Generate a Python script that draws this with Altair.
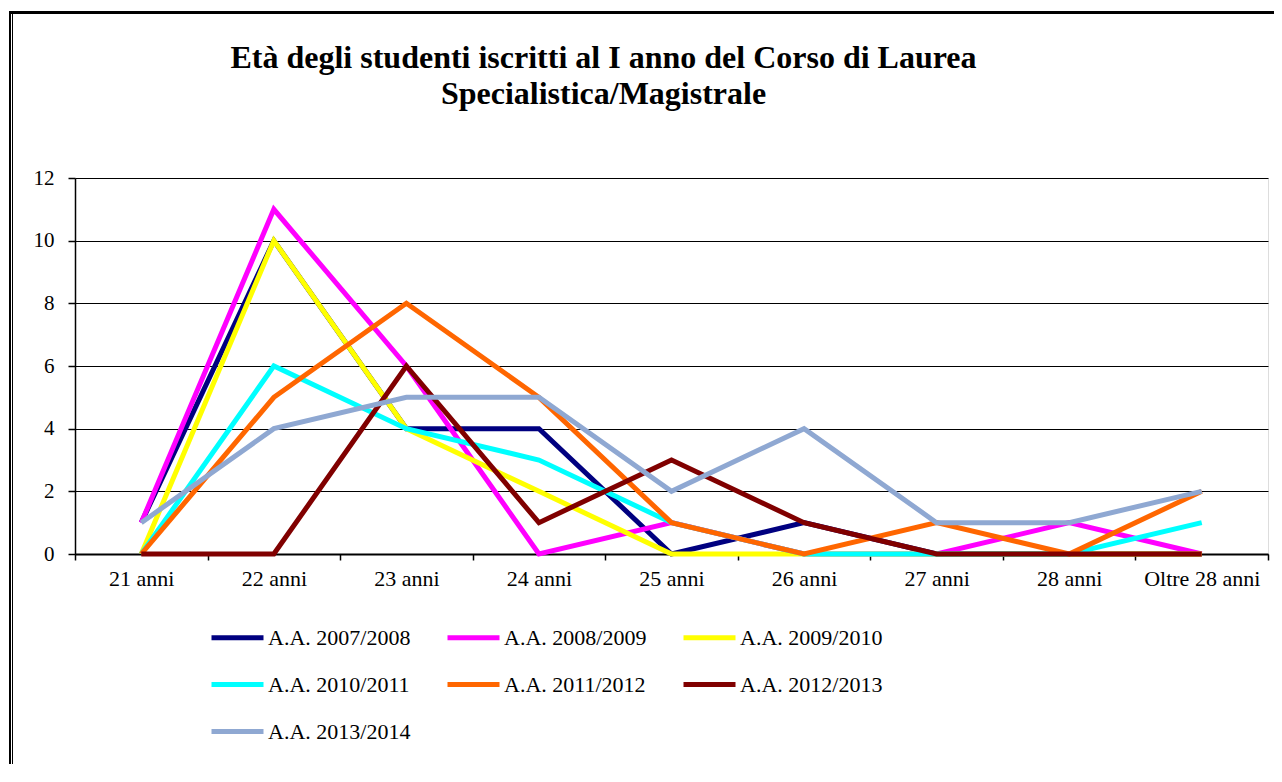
import altair as alt
import pandas as pd

categories = ["21 anni", "22 anni", "23 anni", "24 anni", "25 anni",
              "26 anni", "27 anni", "28 anni", "Oltre 28 anni"]
series = ["A.A. 2007/2008", "A.A. 2008/2009", "A.A. 2009/2010",
          "A.A. 2010/2011", "A.A. 2011/2012", "A.A. 2012/2013",
          "A.A. 2013/2014"]
v_2007 = [1, 10, 4, 4, 0, 1, 0, 0, 0]
v_2008 = [1, 11, 6, 0, 1, 0, 0, 1, 0]
v_2009 = [0, 10, 4, 2, 0, 0, 0, 0, 0]
v_2010 = [0, 6, 4, 3, 1, 0, 0, 0, 1]
v_2011 = [0, 5, 8, 5, 1, 0, 1, 0, 2]
v_2012 = [0, 0, 6, 1, 3, 1, 0, 0, 0]
v_2013 = [1, 4, 5, 5, 2, 4, 1, 1, 2]
colors = ["#000080", "#FF00FF", "#FFFF00", "#00FFFF", "#FF6600",
          "#800000", "#8FA8D2"]
y_ticks = [0, 2, 4, 6, 8, 10, 12]
title_lines = ["Età degli studenti iscritti al I anno del Corso di Laurea",
               "Specialistica/Magistrale"]

all_values = [v_2007, v_2008, v_2009, v_2010, v_2011, v_2012, v_2013]
rows = []
for si, (s, vals) in enumerate(zip(series, all_values)):
    for ci, (c, v) in enumerate(zip(categories, vals)):
        rows.append({"serie": s, "eta": c, "n": v, "ord": si})
df = pd.DataFrame(rows)

SERIF = "Liberation Serif"

lines = alt.Chart(df).mark_line(strokeWidth=5, strokeJoin="miter", strokeCap="butt").encode(
    x=alt.X("eta:N", sort=categories, bandPosition=0.5,
            scale=alt.Scale(type="band", domain=categories, paddingInner=0, paddingOuter=0),
            axis=alt.Axis(title=None, labelAngle=0, tickBand="extent", grid=False,
                          domainColor="black", domainWidth=2, tickColor="black",
                          tickSize=6, tickWidth=1.5, labelFont=SERIF, labelFontSize=22,
                          labelColor="black", labelPadding=8)),
    y=alt.Y("n:Q", scale=alt.Scale(domain=[0, 12], nice=False),
            axis=alt.Axis(title=None, values=y_ticks, grid=True, gridColor="black",
                          gridWidth=1, gridOpacity=1, domainColor="black", domainWidth=1.5,
                          tickColor="black", tickSize=7, tickWidth=1.5, labelFont=SERIF,
                          labelFontSize=21, labelColor="black", labelPadding=14)),
    color=alt.Color("serie:N", sort=series,
                    scale=alt.Scale(domain=series, range=colors),
                    legend=alt.Legend(orient="none", legendX=134, legendY=431, columns=3,
                                      direction="horizontal",
                                      title=None, symbolType="stroke", symbolSize=2704,
                                      symbolStrokeWidth=5, labelFont=SERIF, labelFontSize=22,
                                      labelColor="black", labelOffset=2, columnPadding=26,
                                      rowPadding=7, labelLimit=300)),
    order=alt.Order("ord:Q"),
)

frame_df = pd.DataFrame({"k": [0]})
left_thick = alt.Chart(frame_df).mark_rule(color="black", strokeWidth=2).encode(
    x=alt.value(-65), y=alt.value(-167), y2=alt.value(800))
left_thin = alt.Chart(frame_df).mark_rule(color="black", strokeWidth=1).encode(
    x=alt.value(-62.5), y=alt.value(-164), y2=alt.value(800))
top_line = alt.Chart(frame_df).mark_rule(color="black", strokeWidth=3).encode(
    x=alt.value(-66), x2=alt.value(1300), y=alt.value(-165.5))

chart = alt.layer(left_thick, left_thin, top_line, lines).properties(
    width=1193, height=376,
    title=alt.TitleParams(text=title_lines, font=SERIF, fontSize=32, fontWeight="bold",
                          color="black", anchor="middle", frame="group", baseline="bottom",
                          dx=-68, offset=-133, lineHeight=36),
    autosize=alt.AutoSizeParams(type="none"),
    padding={"left": 67, "top": 170, "right": 6, "bottom": 210},
).configure_view(
    fill="#CCCCCC", stroke="#808080", strokeWidth=2
).configure_axis(
    labelFont=SERIF, labelColor="black"
).configure(background="white")

chart.save("out.html", embed_options={"renderer": "svg", "actions": False})
